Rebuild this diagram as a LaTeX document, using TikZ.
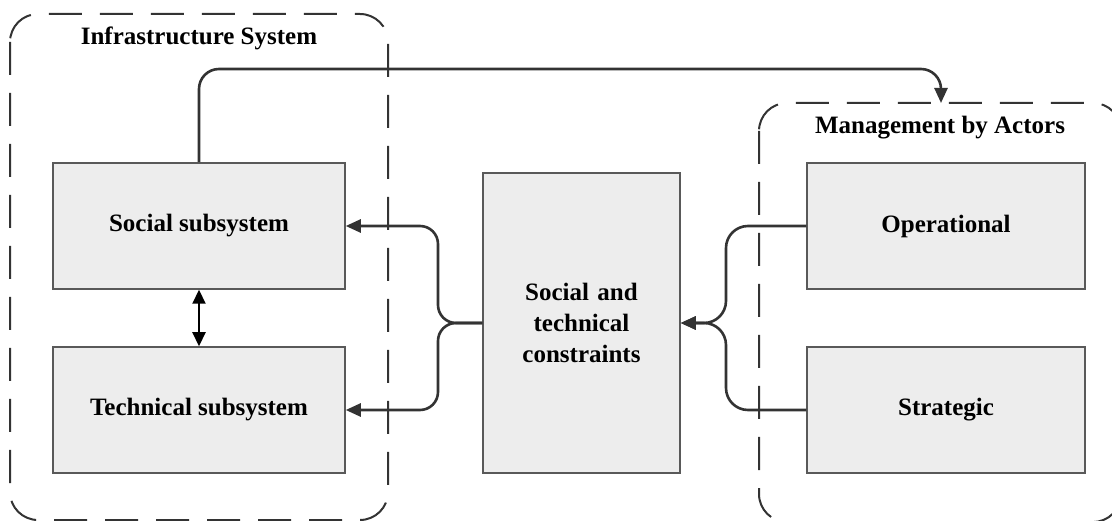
\documentclass[tikz,border=0pt]{standalone}
\usepackage{fontspec}
\setmainfont{Liberation Serif}
\usetikzlibrary{arrows.meta}
\begin{document}
\begin{tikzpicture}[x=1pt,y=-1pt,
  box/.style={draw=black!65, line width=1.5pt, fill=black!7, inner sep=0pt,
    font=\fontsize{25}{31}\selectfont\bfseries, align=center},
  dashbox/.style={draw=black!80, line width=2pt, dash pattern=on 33pt off 18pt, rounded corners=28pt},
  conn/.style={draw=black!80, line width=2.6pt, -{Triangle[length=15pt,width=13pt]}},
  lbl/.style={font=\fontsize{25}{30}\selectfont\bfseries, inner sep=0pt}]
\useasboundingbox (0,0) rectangle (1112,521);
\clip (0,0) rectangle (1112,521);
% group frames
\draw[dashbox] (10,14) rectangle (388,520);
\draw[dashbox] (759,103) rectangle (1121,522);
\node[lbl] (infl) at (199,38) {Infrastructure System};
\node[lbl] (mgml) at (940,128) {Management by Actors};
% boxes
\node[box, minimum width=292pt, minimum height=126pt] (soc) at (199,226) {Social subsystem};
\node[box, minimum width=292pt, minimum height=126pt] (tech) at (199,410) {Technical subsystem};
\node[box, minimum width=197pt, minimum height=300pt, text width=190pt] (con) at (581.5,323) {Social and\\technical\\constraints};
\node[box, minimum width=278pt, minimum height=126pt] (op) at (946,226) {Operational};
\node[box, minimum width=278pt, minimum height=126pt] (str) at (946,410) {Strategic};
\coordinate (mtop) at (941,103);
\coordinate (topbend) at (941,69);
\coordinate (lfork) at (438,323);
\coordinate (rfork) at (726,323);
% connectors
\draw[conn, rounded corners=20pt] (soc.north) |- (topbend) -- (mtop);
\draw[conn, rounded corners=18pt] (con.west) -- (lfork) |- (soc.east);
\draw[conn, rounded corners=18pt] (con.west) -- (lfork) |- (tech.east);
\draw[conn, rounded corners=22pt] (op.west) -| (rfork) -- (con.east);
\draw[conn, rounded corners=22pt] (str.west) -| (rfork) -- (con.east);
\draw[draw=black, line width=2.2pt, {Triangle[length=14pt,width=13pt]}-{Triangle[length=14pt,width=13pt]}] (soc.south) -- (tech.north);
\end{tikzpicture}
\end{document}
